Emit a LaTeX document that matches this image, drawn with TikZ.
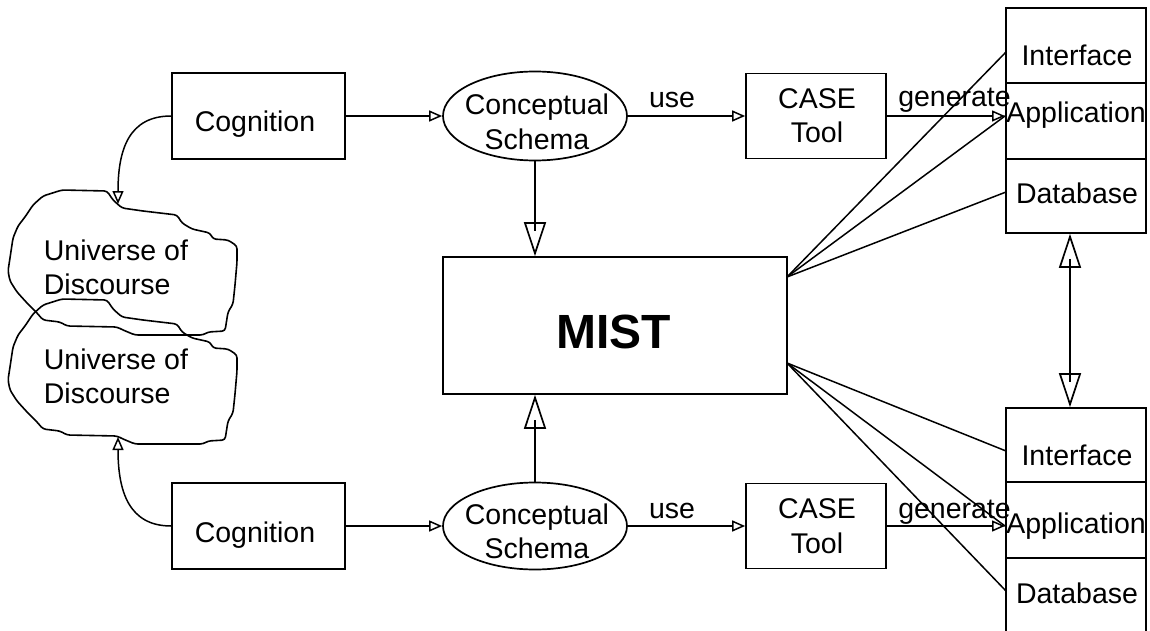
\documentclass[tikz,border=0pt]{standalone}
\usepackage{fontspec}
\setmainfont{Liberation Sans}
\usetikzlibrary{arrows.meta,shapes.geometric,calc}
\begin{document}
\begin{tikzpicture}[x=1pt,y=-1pt,
  line width=1.7pt,
  box/.style={draw,rectangle,inner sep=0pt},
  oval/.style={draw,ellipse,inner sep=0pt,minimum width=184pt},
  txt/.style={inner sep=0pt,anchor=base,font=\fontsize{28.5}{34}\selectfont},
  txtl/.style={txt,anchor=base west},
  link/.style={line width=1.5pt},
  sarrow/.style={line width=1.5pt,-{Triangle[open,length=13pt,width=11pt]}},
  barrow/.style={line width=1.7pt,-{Triangle[open,length=34pt,width=22pt]}},
  darrow/.style={line width=1.7pt,{Triangle[open,length=34pt,width=22pt]}-{Triangle[open,length=34pt,width=22pt]}},
  cloud/.style={line width=1.6pt,rounded corners=3pt,line join=round}
]
\useasboundingbox (0,0) rectangle (1150,631);

% boxes
\node[box,minimum width=173pt,minimum height=86pt] (cog1) at (258.5,116) {};
\node[box,minimum width=173pt,minimum height=86pt] (cog2) at (258.5,526) {};
\node[oval,minimum height=89pt] (cs1) at (535,116) {};
\node[oval,minimum height=87pt] (cs2) at (535,526) {};
\node[box,minimum width=140pt,minimum height=85pt] (case1) at (816,116) {};
\node[box,minimum width=140pt,minimum height=85pt] (case2) at (816,526) {};
\node[box,minimum width=344pt,minimum height=137pt] (mist) at (615,325.5) {};

% stacks
\node[box,minimum width=140pt,minimum height=75pt] (si1) at (1076,45.5) {};
\node[box,minimum width=140pt,minimum height=76pt] (sa1) at (1076,121) {};
\node[box,minimum width=140pt,minimum height=74pt] (sd1) at (1076,196) {};
\node[box,minimum width=140pt,minimum height=74pt] (si2) at (1076,445) {};
\node[box,minimum width=140pt,minimum height=76pt] (sa2) at (1076,520) {};
\node[box,minimum width=140pt,minimum height=78pt] (sd2) at (1076,597) {};

% clouds
\draw[cloud] (62,190) -- (107,191) -- (113,200) -- (122,208) -- (143,211) -- (177,215) -- (182,223) -- (192,229) -- (210,233) -- (213,239) -- (228,240) -- (237,246) -- (237,262) -- (235,285) -- (233,304) -- (228,312) -- (225,331) -- (208,332) -- (203,335) -- (135,335) -- (123,330) -- (117,327) -- (67,326) -- (60,322) -- (43,320) -- (37,313) -- (27,303) -- (17,292) -- (10,281) -- (8,271) -- (10,258) -- (13,238) -- (18,226) -- (25,217) -- (33,205) -- (43,196) -- cycle;
\begin{scope}[shift={(0,109)}]
\draw[cloud] (62,190) -- (107,191) -- (113,200) -- (122,208) -- (143,211) -- (177,215) -- (182,223) -- (192,229) -- (210,233) -- (213,239) -- (228,240) -- (237,246) -- (237,262) -- (235,285) -- (233,304) -- (228,312) -- (225,331) -- (208,332) -- (203,335) -- (135,335) -- (123,330) -- (117,327) -- (67,326) -- (60,322) -- (43,320) -- (37,313) -- (27,303) -- (17,292) -- (10,281) -- (8,271) -- (10,258) -- (13,238) -- (18,226) -- (25,217) -- (33,205) -- (43,196) -- cycle;
\end{scope}

% texts
\node[txt] (cog1t) at (255,132) {Cognition};
\node[txt] (cog2t) at (255,542) {Cognition};
\node[txt] (cs1a) at (537,115) {Conceptual};
\node[txt] (cs1b) at (537,150) {Schema};
\node[txt] (cs2a) at (537,524) {Conceptual};
\node[txt] (cs2b) at (537,558.5) {Schema};
\node[txt] (case1a) at (817,109) {CASE};
\node[txt] (case1b) at (817,143) {Tool};
\node[txt] (case2a) at (817,518) {CASE};
\node[txt] (case2b) at (817,553) {Tool};
\node[txt] (use1) at (672,108) {use};
\node[txt] (use2) at (672,518) {use};
\node[txt] (gen1) at (954.5,107) {generate};
\node[txt] (gen2) at (954.5,518) {generate};
\node[txt,font=\fontsize{48}{48}\selectfont\bfseries] (mistt) at (613.5,348) {MIST};
\node[txt] (ti1) at (1077,66) {Interface};
\node[txt] (ta1) at (1076,123) {Application};
\node[txt] (td1) at (1077,204) {Database};
\node[txt] (ti2) at (1077,465) {Interface};
\node[txt] (ta2) at (1076,533) {Application};
\node[txt] (td2) at (1077,603) {Database};
\node[txtl] (ud1a) at (43,260) {Universe of};
\node[txtl] (ud1b) at (43,294) {Discourse};
\node[txtl] (ud2a) at (43,369) {Universe of};
\node[txtl] (ud2b) at (43,403) {Discourse};

% coordinates
\coordinate (m1) at (787,277);
\coordinate (m2) at (787,363);
\coordinate (pi1) at (1006,52);
\coordinate (pa1) at (1005,116);
\coordinate (pd1) at (1006,192);
\coordinate (pi2) at (1006,451);
\coordinate (pa2) at (1005,526);
\coordinate (pd2) at (1006,591);
\coordinate (ud1) at (118,204);
\coordinate (ud2) at (118,437);
\coordinate (dtop) at ([xshift=-6pt]sd1.south);
\coordinate (dbot) at ([xshift=-6pt]si2.north);

% connectors
\draw[sarrow] (cog1.east) -- (cs1.west);
\draw[sarrow] (cs1.east) -- (case1.west);
\draw[sarrow] (case1.east) -- (pa1);
\draw[sarrow] (cog2.east) -- (cs2.west);
\draw[sarrow] (cs2.east) -- (case2.west);
\draw[sarrow] (case2.east) -- (pa2);

\draw[sarrow] (cog1.west) .. controls +(-42,0) and +(0,-55) .. (ud1);
\draw[sarrow] (cog2.west) .. controls +(-42,0) and +(0,55) .. (ud2);

\draw[barrow] (cs1.south) -- (cs1.south |- mist.north);
\draw (cs1.south) -- ($(cs1.south |- mist.north)!25pt!(cs1.south)$);
\draw[barrow] (cs2.north) -- (cs2.north |- mist.south);
\draw (cs2.north) -- ($(cs2.north |- mist.south)!25pt!(cs2.north)$);

\draw[darrow] (dtop) -- (dbot);
\draw ($(dtop)!25pt!(dbot)$) -- ($(dbot)!25pt!(dtop)$);

\draw[link] (m1) -- (pi1);
\draw[link] (m1) -- (pa1);
\draw[link] (m1) -- (pd1);
\draw[link] (m2) -- (pi2);
\draw[link] (m2) -- (pa2);
\draw[link] (m2) -- (pd2);
\end{tikzpicture}
\end{document}
